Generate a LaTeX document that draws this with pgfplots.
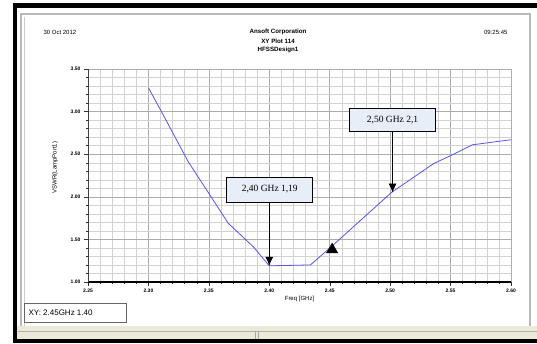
\documentclass[border=0pt]{standalone}
\usepackage{fontspec}
\setmainfont{Liberation Sans}
\newfontfamily\serifann{Liberation Serif}
\usepackage{pgfplots}
\pgfplotsset{compat=1.18}
\usetikzlibrary{arrows.meta}
\definecolor{curve}{RGB}{85,85,230}
\definecolor{boxfill}{RGB}{232,238,248}
\definecolor{xpbar}{RGB}{236,233,216}
\begin{document}
\begin{tikzpicture}[x=1pt,y=1pt]
\useasboundingbox (0,0) rectangle (537,343);
\fill[white] (0,0) rectangle (537,343);
% window decorations
\fill[xpbar] (17,4) rectangle (537,17);
\draw[gray!60, line width=0.6pt] (17,12) -- (537,12);
\draw[gray!70, line width=0.6pt] (255,4) -- (255,12);
\draw[gray!70, line width=0.6pt] (258,4) -- (258,12);
\draw[gray!55, line width=1.4pt] (21,17) -- (21,329) -- (530,329) -- (530,17);
\draw[gray!40, line width=0.6pt] (24,17) -- (24,326);
\fill[black] (13,0) rectangle (537,4);
\fill[black] (13,0) rectangle (17,340);
\fill[black] (13,335) rectangle (537,340);
% header texts
\node[font=\fontsize{6}{7}\selectfont, anchor=west] at (40,311) {30 Oct 2012};
\node[font=\fontsize{6}{7}\selectfont, anchor=east] at (511,311) {09:25:45};
\node[font=\fontsize{6.2}{7}\selectfont\bfseries] at (278,311) {Ansoft Corporation};
\node[font=\fontsize{6.2}{7}\selectfont\bfseries] at (278,302) {XY Plot 114};
\node[font=\fontsize{6.2}{7}\selectfont\bfseries] at (278,293) {HFSSDesign1};
% marker readout box
\draw[gray!80!black, line width=0.6pt, fill=white] (24,21) rectangle (126,40);
\node[font=\fontsize{8}{9}\selectfont, anchor=west] at (25,30.5) {XY: 2.45GHz 1.40};
\begin{axis}[
  at={(88pt,61pt)}, anchor=south west,
  width=423pt, height=213pt, scale only axis,
  xmin=2.25, xmax=2.60, ymin=1, ymax=3.5,
  xtick={2.25,2.30,2.35,2.40,2.45,2.50,2.55,2.60},
  ytick={1.00,1.50,2.00,2.50,3.00,3.50},
  minor x tick num=4, minor y tick num=4,
  grid=both,
  major grid style={gray!65, line width=0.5pt},
  minor grid style={gray!35, line width=0.4pt},
  axis x line*=bottom, axis y line*=left,
  x axis line style={black, line width=1.1pt},
  y axis line style={black!75, line width=0.6pt},
  tick align=outside,
  major tick length=4pt, minor tick length=2pt,
  every tick/.style={black!80, line width=0.4pt},
  /pgf/number format/.cd, fixed, fixed zerofill, precision=2, assume math mode=true,
  /pgfplots/.cd,
  ticklabel style={font=\fontsize{5}{6}\selectfont\bfseries},
  xticklabel style={yshift=1pt},
  xlabel={Freq [GHz]},
  ylabel={VSWR(LampPort1)},
  xlabel style={font=\fontsize{6}{7}\selectfont, at={(axis description cs:0.5,0)}, anchor=north, yshift=-11pt},
  ylabel style={font=\fontsize{6}{7}\selectfont, at={(axis description cs:0,0.5)}, anchor=center, xshift=8pt, yshift=33pt},
  clip=false,
]
\addplot[curve, line width=0.8pt] coordinates {
  (2.300,3.28)
  (2.310,3.02)
  (2.333,2.41)
  (2.350,2.04)
  (2.366,1.69)
  (2.387,1.41)
  (2.400,1.19)
  (2.434,1.20)
  (2.451,1.41)
  (2.501,2.05)
  (2.536,2.39)
  (2.551,2.49)
  (2.568,2.61)
  (2.600,2.67)
};
\addplot[only marks, mark=triangle*, mark size=6.5pt, black] coordinates {(2.452,1.38)};
\draw[black, line width=0.8pt, -{Latex[length=9pt,width=8pt]}] (axis cs:2.400,1.94) -- (axis cs:2.400,1.19);
\draw[black, line width=0.8pt, -{Latex[length=9pt,width=8pt]}] (axis cs:2.502,2.77) -- (axis cs:2.502,2.05);
\node[draw=black, line width=0.6pt, fill=boxfill, minimum width=86pt, minimum height=25pt, inner sep=0pt, font=\serifann\fontsize{9.5}{10}\selectfont] at (axis cs:2.4004,2.086) {2,40 GHz 1,19};
\node[draw=black, line width=0.6pt, fill=boxfill, minimum width=86pt, minimum height=23pt, inner sep=0pt, font=\serifann\fontsize{9.5}{10}\selectfont] at (axis cs:2.502,2.906) {2,50 GHz 2,1};
\end{axis}
\end{tikzpicture}
\end{document}
